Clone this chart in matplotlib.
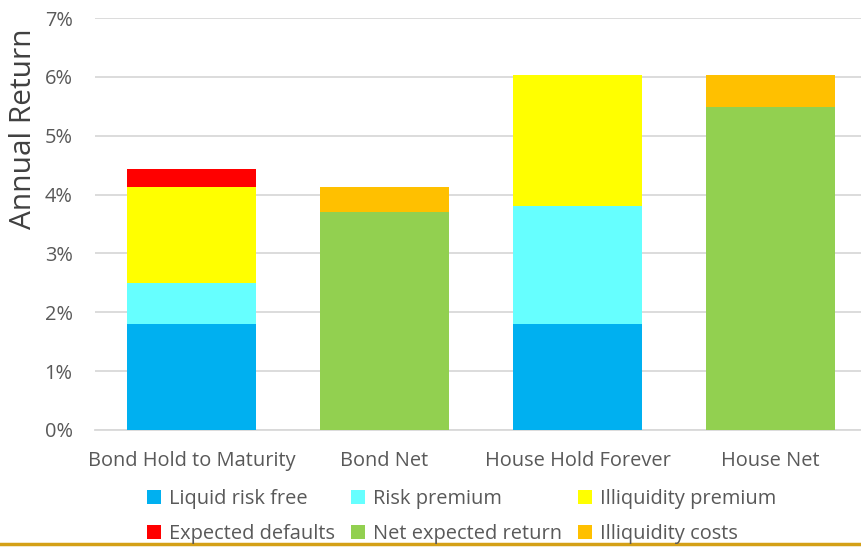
import numpy as np
import matplotlib.pyplot as plt
from matplotlib.patches import Patch

plt.rcParams['font.family'] = ['Open Sans', 'DejaVu Sans']

categories = ['Bond Hold to Maturity', 'Bond Net', 'House Hold Forever', 'House Net']

# stacked components in percent, bottom to top
liquid_risk_free = [1.8, 0, 1.8, 0]
risk_premium = [0.7, 0, 2.0, 0]
illiquidity_premium = [1.63, 0, 2.23, 0]
expected_defaults = [0.3, 0, 0, 0]
net_expected_return = [0, 3.7, 0, 5.48]
illiquidity_costs = [0, 0.43, 0, 0.55]

series = [
    ('Liquid risk free', liquid_risk_free, '#00B0F0'),
    ('Risk premium', risk_premium, '#66FFFF'),
    ('Illiquidity premium', illiquidity_premium, '#FFFF00'),
    ('Expected defaults', expected_defaults, '#FF0000'),
    ('Net expected return', net_expected_return, '#92D050'),
    ('Illiquidity costs', illiquidity_costs, '#FFC000'),
]

fig = plt.figure(figsize=(8.62, 5.47), dpi=100)
ax = fig.add_axes([0.110, 0.214, 0.896, 0.753])

x = np.arange(len(categories))
bottom = np.zeros(len(categories))
for name, vals, col in series:
    vals = np.array(vals, dtype=float)
    ax.bar(x, vals, 0.67, bottom=bottom, color=col, label=name, zorder=3)
    bottom += vals

ax.set_xlim(-0.5, 3.5)
ax.set_ylim(0, 7)
ax.set_yticks(range(0, 8))
ax.set_yticklabels([f'{v}%' for v in range(0, 8)])
ax.set_xticks(x)
ax.set_xticklabels(categories)
ax.grid(axis='y', color='#D9D9D9', linewidth=1.3, zorder=0)
for s in ['top', 'right', 'left']:
    ax.spines[s].set_visible(False)
ax.spines['bottom'].set_color('#D9D9D9')
ax.spines['bottom'].set_linewidth(1.3)
ax.tick_params(axis='both', length=0, labelsize=14.4, colors='#595959')
ax.tick_params(axis='x', pad=15)
ax.tick_params(axis='y', pad=16)

fig.text(0.027, 0.765, 'Annual Return', rotation=90, fontsize=21.5,
         color='#404040', ha='center', va='center')

# legend fills column by column, so interleave to get row order
patches = [Patch(facecolor=c, label=n) for n, _, c in series]
handles = [patches[0], patches[3], patches[1], patches[4], patches[2], patches[5]]
fig.legend(handles=handles, ncol=3, loc='center', bbox_to_anchor=(0.536, 0.055),
           frameon=False, fontsize=14.4, labelcolor='#595959',
           handlelength=0.7, handleheight=0.7, handletextpad=0.4,
           columnspacing=0.8, labelspacing=0.75)

# gold rule along the bottom edge
fig.add_artist(plt.Line2D([0, 1], [0.005, 0.005], color='#D4A017', linewidth=2.5))

fig.savefig('out.png', dpi=100)
